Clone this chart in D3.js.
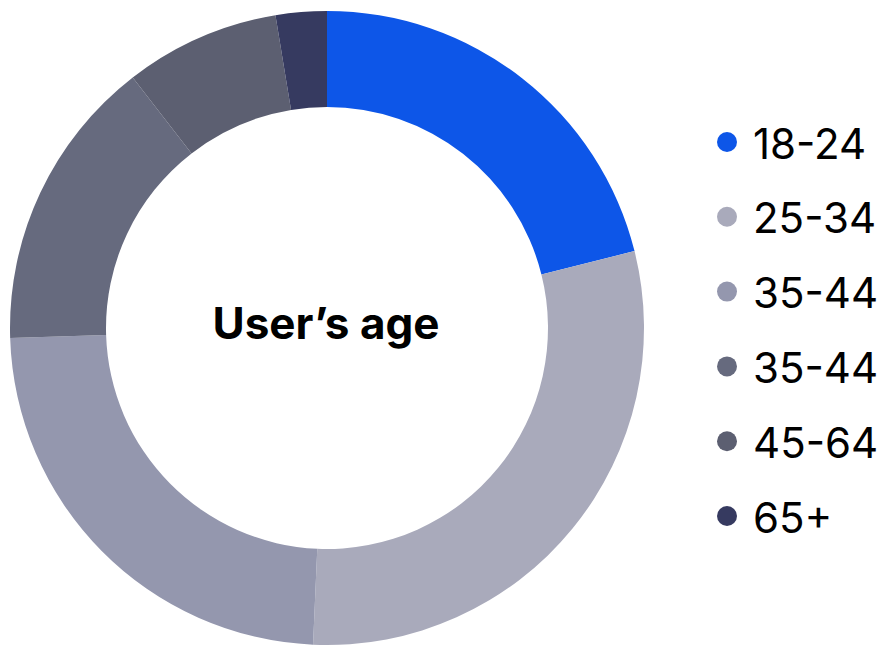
<!DOCTYPE html>
<html>
<head>
<meta charset="utf-8">
<script src="https://cdn.jsdelivr.net/npm/d3@7"></script>
<style>
  body { margin: 0; background: #fff; }
  svg { display: block; font-family: Inter, "Noto Sans", sans-serif; }
</style>
</head>
<body>
<div id="chart"></div>
<script>
var labels = ["18-24", "25-34", "35-44", "35-44", "45-64", "65+"];
var values = [21.1, 29.6, 23.8, 15.0, 7.9, 2.6];
var colors = ["#0d56e8", "#a9aabb", "#9497ae", "#666a7e", "#5c5f71", "#363a60"];
var title = "User\u2019s age";

var width = 882, height = 647;
var cx = 327, cy = 328;
var outerR = 317, innerR = 221;

var data = labels.map(function (d, i) {
  return { label: d, value: values[i], color: colors[i] };
});

var svg = d3.select("#chart")
  .append("svg")
  .attr("width", width)
  .attr("height", height);

var pie = d3.pie()
  .value(function (d) { return d.value; })
  .sort(null);

var arc = d3.arc()
  .innerRadius(innerR)
  .outerRadius(outerR);

svg.append("g")
  .attr("transform", `translate(${cx}, ${cy})`)
  .selectAll("path")
  .data(pie(data))
  .join("path")
  .attr("d", arc)
  .attr("fill", function (d) { return d.data.color; });

svg.append("text")
  .attr("x", cx - 1)
  .attr("y", cy - 1)
  .attr("text-anchor", "middle")
  .attr("dominant-baseline", "middle")
  .attr("font-size", 44)
  .attr("font-weight", 700)
  .attr("fill", "#000")
  .text(title);

// legend
var y = d3.scalePoint()
  .domain(d3.range(labels.length))
  .range([142, 516]);

var legend = svg.append("g")
  .selectAll("g")
  .data(data)
  .join("g")
  .attr("transform", function (d, i) { return `translate(727, ${y(i)})`; });

legend.append("circle")
  .attr("r", 10)
  .attr("fill", function (d) { return d.color; });

legend.append("text")
  .attr("x", 26)
  .attr("y", 1)
  .attr("dominant-baseline", "central")
  .attr("font-size", 42)
  .attr("fill", "#000")
  .text(function (d) { return d.label; });
</script>
</body>
</html>
